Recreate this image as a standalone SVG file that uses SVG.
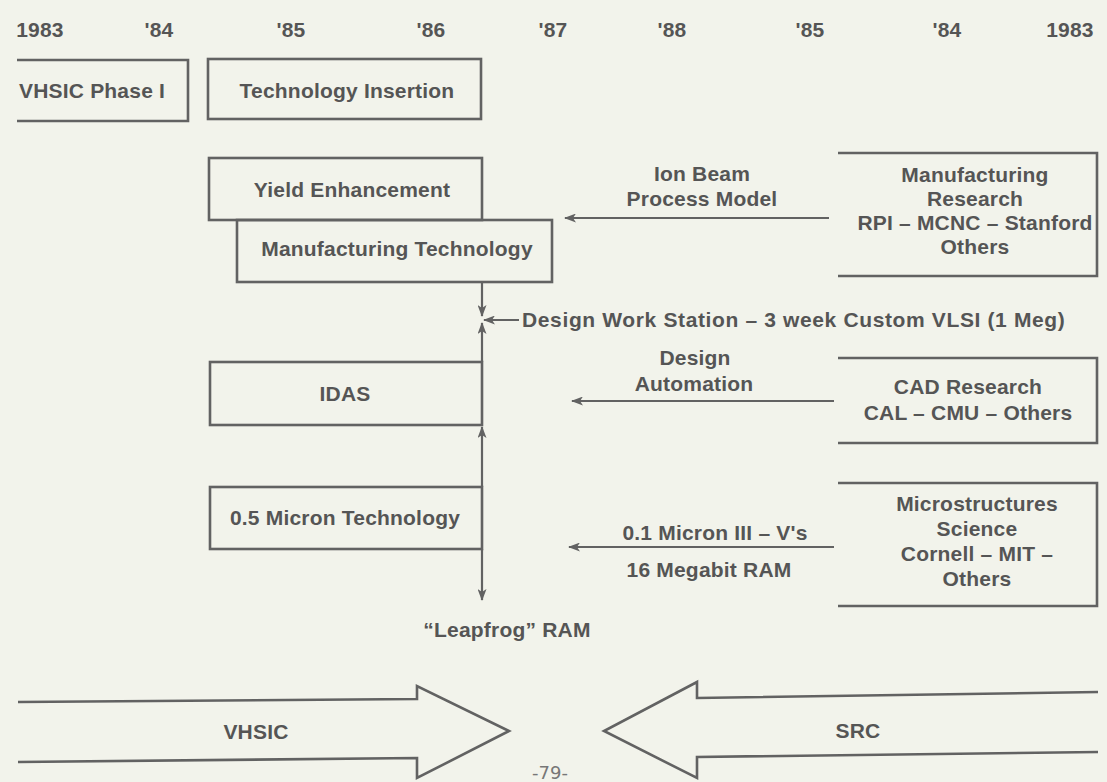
<svg xmlns="http://www.w3.org/2000/svg" width="1107" height="782" viewBox="0 0 1107 782">
<style>
.t{font-family:"Liberation Sans",Arial,sans-serif;font-weight:bold;fill:#555;font-size:21px;letter-spacing:0.2px;text-anchor:middle}
.b{fill:none;stroke:#626262;stroke-width:2.6}
.c{fill:none;stroke:#626262;stroke-width:2.2}
</style>
<defs>
<marker id="ah" markerWidth="12" markerHeight="9" refX="11" refY="4.5" orient="auto" markerUnits="userSpaceOnUse">
<path d="M0,0 L12,4.5 L0,9 L3,4.5 Z" fill="#626262"/>
</marker>
</defs>
<rect width="1107" height="782" fill="#f2f3eb"/>
<g id="years">
<text class="t" x="40" y="37">1983</text>
<text class="t" x="159" y="37">'84</text>
<text class="t" x="291" y="37">'85</text>
<text class="t" x="431" y="37">'86</text>
<text class="t" x="553" y="37">'87</text>
<text class="t" x="672" y="37">'88</text>
<text class="t" x="810" y="37">'85</text>
<text class="t" x="947" y="37">'84</text>
<text class="t" x="1070" y="37">1983</text>
</g>
<g id="vhsic-phase1">
<path class="b" d="M17,60 H188 V121 H17"/>
<text class="t" x="92" y="98">VHSIC Phase I</text>
</g>
<g id="tech-insertion">
<rect class="b" x="208" y="59" width="273" height="60"/>
<text class="t" x="347" y="98">Technology Insertion</text>
</g>
<g id="yield">
<rect class="b" x="209" y="158" width="273" height="62"/>
<text class="t" x="352" y="197">Yield Enhancement</text>
</g>
<g id="mfg-tech">
<rect class="b" x="237" y="220" width="315" height="62"/>
<text class="t" x="397" y="256">Manufacturing Technology</text>
</g>
<g id="idas">
<rect class="b" x="210" y="362" width="272" height="63"/>
<text class="t" x="345" y="401">IDAS</text>
</g>
<g id="micron05">
<rect class="b" x="210" y="487" width="272" height="62"/>
<text class="t" x="345" y="525">0.5 Micron Technology</text>
</g>
<g id="mfg-research">
<path class="b" d="M838,153 H1097 V276 H838"/>
<text class="t" x="975" y="182">Manufacturing</text>
<text class="t" x="975" y="206">Research</text>
<text class="t" x="975" y="230">RPI – MCNC – Stanford</text>
<text class="t" x="975" y="254">Others</text>
</g>
<g id="cad-research">
<path class="b" d="M838,358 H1097 V443 H838"/>
<text class="t" x="968" y="394">CAD Research</text>
<text class="t" x="968" y="420">CAL – CMU – Others</text>
</g>
<g id="microstructures">
<path class="b" d="M838,483 H1097 V606 H838"/>
<text class="t" x="977" y="511">Microstructures</text>
<text class="t" x="977" y="536">Science</text>
<text class="t" x="977" y="561">Cornell – MIT –</text>
<text class="t" x="977" y="586">Others</text>
</g>
<g id="connectors">
<line class="c" x1="829" y1="218" x2="565" y2="218" marker-end="url(#ah)"/>
<line class="c" x1="834" y1="401" x2="572" y2="401" marker-end="url(#ah)"/>
<line class="c" x1="834" y1="547" x2="569" y2="547" marker-end="url(#ah)"/>
<line class="c" x1="519" y1="320" x2="484" y2="320" marker-end="url(#ah)"/>
<line class="c" x1="482" y1="282" x2="482" y2="316" marker-end="url(#ah)"/>
<line class="c" x1="482" y1="362" x2="482" y2="323" marker-end="url(#ah)"/>
<line class="c" x1="482" y1="487" x2="482" y2="427" marker-end="url(#ah)"/>
<line class="c" x1="482" y1="549" x2="482" y2="600" marker-end="url(#ah)"/>
</g>
<g id="labels">
<text class="t" x="702" y="181">Ion Beam</text>
<text class="t" x="702" y="206">Process Model</text>
<text class="t" x="522" y="327" style="text-anchor:start" textLength="543" lengthAdjust="spacing">Design Work Station – 3 week Custom VLSI (1 Meg)</text>
<text class="t" x="695" y="365">Design</text>
<text class="t" x="694" y="391">Automation</text>
<text class="t" x="715" y="540">0.1 Micron III – V's</text>
<text class="t" x="709" y="577">16 Megabit RAM</text>
<text class="t" x="507" y="637">“Leapfrog” RAM</text>
</g>
<g id="vhsic-arrow">
<path class="b" d="M18,702 L417,699 L417,686 L509,731 L417,778 L417,758 L18,762"/>
<text class="t" x="256" y="739">VHSIC</text>
</g>
<g id="src-arrow">
<path class="b" d="M1098,692 L697,698 L697,682 L604,731 L697,778 L697,757 L1098,752"/>
<text class="t" x="858" y="738">SRC</text>
</g>
<text x="550" y="779" font-family="'DejaVu Sans',sans-serif" font-size="18" fill="#777" text-anchor="middle">-79-</text>
</svg>
